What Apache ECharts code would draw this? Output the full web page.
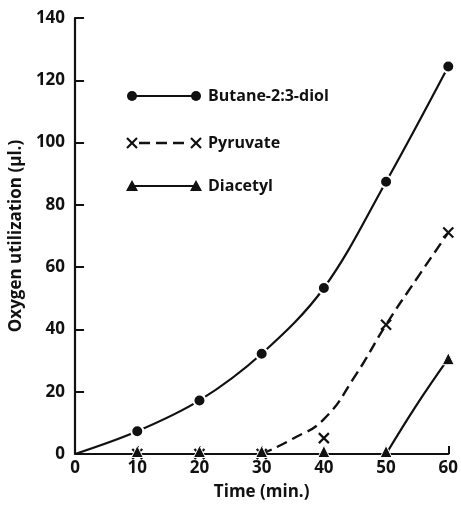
<!DOCTYPE html>
<html>
<head>
<meta charset="utf-8">
<script src="https://cdn.jsdelivr.net/npm/echarts@6/dist/echarts.min.js"></script>
<style>
html, body { margin: 0; padding: 0; background: #fff; }
#chart { width: 461px; height: 506px; }
</style>
</head>
<body>
<div id="chart"></div>
<script>
// values
const times = [0, 10, 20, 30, 40, 50, 60]
const butanediol = [0, 7.3, 17.2, 32.2, 53.3, 87.4, 124.4]
const pyruvatePoints = [[10, 0], [20, 0], [30, 0], [40, 5.1], [50, 41.5], [60, 71.1]]
const pyruvateCurve = [[30, 0], [35, 4.9], [40, 11.2], [45, 25], [50, 41.5], [55, 56.5], [60, 71.1]]
const diacetylPoints = [[10, 0.8], [20, 0.8], [30, 0.8], [40, 0.8], [50, 0.8], [60, 30.6]]
const diacetylCurve = [[50, 0], [55, 16], [60, 30.6]]
const yTicks = [0, 20, 40, 60, 80, 100, 120, 140]

const ink = '#111'
const font = '"Open Sans", "DejaVu Sans", sans-serif'
const crossPath = 'path://M0,0L10,10M10,0L0,10'

const chart = echarts.init(document.getElementById('chart'))

const legendRow = (y, kind, label) => {
  const items = []
  const x1 = 132, x2 = 196
  if (kind === 'dash') {
    items.push({ type: 'line', shape: { x1: x1 + 7, y1: y, x2: x2 - 7, y2: y }, style: { stroke: ink, lineWidth: 2.4, lineDash: [11, 6] } })
  } else {
    items.push({ type: 'line', shape: { x1: x1, y1: y, x2: x2, y2: y }, style: { stroke: ink, lineWidth: 2.2 } })
  }
  ;[x1, x2].forEach(x => {
    if (kind === 'circle') {
      items.push({ type: 'circle', shape: { cx: x, cy: y, r: 5 }, style: { fill: ink } })
    } else if (kind === 'dash') {
      items.push({ type: 'polyline', shape: { points: [[x - 5, y - 5], [x + 5, y + 5]] }, style: { stroke: ink, lineWidth: 2.2, fill: null } })
      items.push({ type: 'polyline', shape: { points: [[x + 5, y - 5], [x - 5, y + 5]] }, style: { stroke: ink, lineWidth: 2.2, fill: null } })
    } else {
      items.push({ type: 'polygon', shape: { points: [[x, y - 6], [x + 6, y + 5], [x - 6, y + 5]] }, style: { fill: ink } })
    }
  })
  items.push({ type: 'text', x: 208, y: y, style: { text: label, font: 'bold 16px ' + font, fill: ink, textVerticalAlign: 'middle' } })
  return items
}

const option = {
  animation: false,
  backgroundColor: '#fff',
  grid: { left: 71, right: 11, top: 18, bottom: 50 },
  xAxis: {
    type: 'value',
    min: 0,
    max: 60,
    interval: 10,
    name: 'Time (min.)',
    nameLocation: 'middle',
    nameGap: 30,
    nameTextStyle: { color: ink, fontSize: 17, fontWeight: 'bold', fontFamily: font },
    axisLine: { lineStyle: { color: ink, width: 2.2 } },
    axisTick: { inside: true, length: 8, lineStyle: { color: ink, width: 2 } },
    axisLabel: { color: ink, fontSize: 17, fontWeight: 'bold', fontFamily: font, margin: 6 },
    splitLine: { show: false }
  },
  yAxis: {
    type: 'value',
    min: 0,
    max: 140,
    interval: 20,
    name: 'Oxygen utilization (μl.)',
    nameLocation: 'middle',
    nameGap: 50,
    nameTextStyle: { color: ink, fontSize: 17, fontWeight: 'bold', fontFamily: font },
    axisLine: { lineStyle: { color: ink, width: 2.2 } },
    axisTick: { inside: true, length: 9, lineStyle: { color: ink, width: 2 } },
    axisLabel: { color: ink, fontSize: 17, fontWeight: 'bold', fontFamily: font, margin: 10,
      formatter: v => yTicks.includes(v) ? String(v) : '' },
    splitLine: { show: false }
  },
  series: [
    {
      name: 'Butane-2:3-diol',
      type: 'line',
      smooth: 0.35,
      data: times.map((t, i) => i === 0 ? { value: [t, butanediol[i]], symbol: 'none' } : [t, butanediol[i]]),
      symbol: 'circle',
      symbolSize: 12,
      lineStyle: { color: ink, width: 2.2 },
      itemStyle: { color: ink, borderColor: '#fff', borderWidth: 2 },
      z: 3
    },
    {
      name: 'Pyruvate curve',
      type: 'line',
      smooth: 0.5,
      data: pyruvateCurve,
      symbol: 'none',
      lineStyle: { color: ink, width: 2.4, type: [11, 6] },
      z: 2
    },
    {
      name: 'Pyruvate',
      type: 'scatter',
      data: pyruvatePoints,
      symbol: crossPath,
      symbolSize: 10,
      itemStyle: { color: 'none', borderColor: ink, borderWidth: 2.2, opacity: 1 },
      z: 4
    },
    {
      name: 'Diacetyl curve',
      type: 'line',
      smooth: 0.4,
      data: diacetylCurve,
      symbol: 'none',
      lineStyle: { color: ink, width: 2.2 },
      z: 2
    },
    {
      name: 'Diacetyl',
      type: 'scatter',
      data: diacetylPoints,
      symbol: 'triangle',
      symbolSize: 12,
      itemStyle: { color: ink, borderColor: '#fff', borderWidth: 1, opacity: 1 },
      z: 5
    }
  ],
  graphic: [
    ...legendRow(96, 'circle', 'Butane-2:3-diol'),
    ...legendRow(143, 'dash', 'Pyruvate'),
    ...legendRow(186, 'tri', 'Diacetyl')
  ]
}

chart.setOption(option)
window.addEventListener('resize', function() {
  chart.resize()
})
</script>
</body>
</html>
